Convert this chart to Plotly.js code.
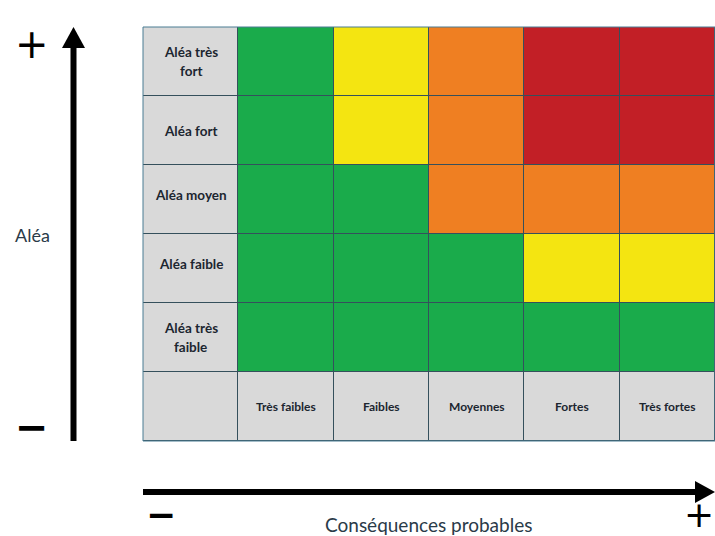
<!DOCTYPE html>
<html>
<head>
<meta charset="utf-8">
<script src="https://cdn.plot.ly/plotly-3.0.1.min.js"></script>
<style>html,body{margin:0;padding:0;background:#fff;}#chart{width:715px;height:536px;}</style>
</head>
<body>
<div id="chart"></div>
<script>
// ---- data ----
const alea = ['Aléa très fort', 'Aléa fort', 'Aléa moyen', 'Aléa faible', 'Aléa très faible'];
const aleaLabels = ['Aléa très\nfort', 'Aléa fort', 'Aléa moyen', 'Aléa faible', 'Aléa très\nfaible'];
const consequences = ['Très faibles', 'Faibles', 'Moyennes', 'Fortes', 'Très fortes'];
// risk level: 1 green, 2 yellow, 3 orange, 4 red
const riskTresFort   = [1, 2, 3, 4, 4];
const riskFort       = [1, 2, 3, 4, 4];
const riskMoyen      = [1, 1, 3, 3, 3];
const riskFaible     = [1, 1, 1, 2, 2];
const riskTresFaible = [1, 1, 1, 1, 1];
const yTitle = 'Aléa';
const xTitle = 'Conséquences probables';

// ---- build ----
const rowKey = 'rowlabels';
const colKey = 'collabels';
const xs = [rowKey].concat(consequences);
const ys = alea.concat([colKey]);
const riskRows = [riskTresFort, riskFort, riskMoyen, riskFaible, riskTresFaible];
const z = riskRows.map(r => [0].concat(r));
z.push([0].concat(consequences.map(() => 0)));

const gray = '#d9d9d9', green = '#1aab4b', yellow = '#f4e511', orange = '#ef7f22', red = '#c21f26';
const colorscale = [
  [0, gray], [0.2, gray],
  [0.2, green], [0.4, green],
  [0.4, yellow], [0.6, yellow],
  [0.6, orange], [0.8, orange],
  [0.8, red], [1, red]
];

const trace = {
  type: 'heatmap', x: xs, y: ys, z: z,
  zmin: -0.5, zmax: 4.5, colorscale: colorscale, showscale: false,
  xgap: 1, ygap: 1, hoverinfo: 'skip'
};

// pixel helpers for the plot area (143..715, 27..441)
const L = 143, R = 715, T = 27, B = 441;
const px = v => (v - L) / (R - L);
const py = v => (B - v) / (B - T);

const txtColor = '#1c2630';
const annotations = [];
aleaLabels.forEach((lab, i) => {
  const lines = lab.split('\n');
  lines.forEach((ln, j) => {
    annotations.push({
      x: rowKey, y: alea[i], xref: 'x', yref: 'y', text: ln, showarrow: false,
      yshift: (lines.length - 1) * 9.5 - j * 19 + (lines.length === 1 && i > 1 ? 5 : 0),
      font: {family: 'Lato, sans-serif', size: 13.5, color: txtColor, weight: 'bold'}
    });
  });
});
consequences.forEach(c => {
  annotations.push({
    x: c, y: colKey, xref: 'x', yref: 'y', text: c, showarrow: false,
    font: {family: 'Lato, sans-serif', size: 12, color: txtColor, weight: 'bold'}
  });
});
const sym = (t, x, y, bold, anchor) => ({
  x: px(x), y: py(y), xref: 'paper', yref: 'paper', text: t, showarrow: false,
  xanchor: 'center', yanchor: anchor || 'middle',
  font: {family: 'DejaVu Sans, sans-serif', size: 40, color: '#000', weight: bold ? 'bold' : 'normal'}
});
annotations.push(sym('+', 32, 44, false));
annotations.push(sym('−', 32, 427, true));
const symB = (t, x, bold) => ({
  x: px(x), y: py(536), xref: 'paper', yref: 'paper', text: t, showarrow: false,
  xanchor: 'center', yanchor: 'bottom', borderpad: 0,
  font: {family: 'DejaVu Sans, sans-serif', size: 36, color: '#000', weight: bold ? 'bold' : 'normal'}
});
annotations.push(symB('−', 161, true));
annotations.push(symB('+', 699, false));
annotations.push({
  x: px(32), y: py(235), xref: 'paper', yref: 'paper', text: yTitle, showarrow: false,
  xanchor: 'center', yanchor: 'middle',
  font: {family: 'Lato, sans-serif', size: 18, color: '#2a3a48'}
});
annotations.push({
  x: px(428), y: py(524), xref: 'paper', yref: 'paper', text: xTitle, showarrow: false,
  xanchor: 'center', yanchor: 'middle',
  font: {family: 'Lato, sans-serif', size: 19, color: '#2a3a48'}
});

const shapes = [
  {type: 'line', xref: 'paper', yref: 'paper', x0: px(73.5), x1: px(73.5), y0: py(441), y1: py(46),
   line: {color: '#000', width: 6}},
  {type: 'path', xref: 'paper', yref: 'paper',
   path: `M ${px(73.5)} ${py(27)} L ${px(62)} ${py(48)} L ${px(85)} ${py(48)} Z`,
   fillcolor: '#000', line: {width: 0}},
  {type: 'line', xref: 'paper', yref: 'paper', x0: px(143), x1: px(698), y0: py(492), y1: py(492),
   line: {color: '#000', width: 6}},
  {type: 'path', xref: 'paper', yref: 'paper',
   path: `M ${px(715)} ${py(492)} L ${px(695)} ${py(481)} L ${px(695)} ${py(503)} Z`,
   fillcolor: '#000', line: {width: 0}},
  {type: 'rect', xref: 'paper', yref: 'paper', x0: 0, x1: 1, y0: 0, y1: 1,
   line: {color: '#4a7c93', width: 1}}
];

const layout = {
  width: 715, height: 536,
  margin: {l: L, r: 715 - R, t: T, b: 536 - B, pad: 0},
  paper_bgcolor: '#ffffff', plot_bgcolor: '#35505c',
  xaxis: {type: 'category', categoryarray: xs, showticklabels: false, showgrid: false, zeroline: false, ticks: '', fixedrange: true},
  yaxis: {type: 'category', categoryarray: ys, autorange: 'reversed', showticklabels: false, showgrid: false, zeroline: false, ticks: '', fixedrange: true},
  showlegend: false,
  annotations: annotations,
  shapes: shapes
};

Plotly.newPlot('chart', [trace], layout, {displayModeBar: false, staticPlot: true});
</script>
</body>
</html>
